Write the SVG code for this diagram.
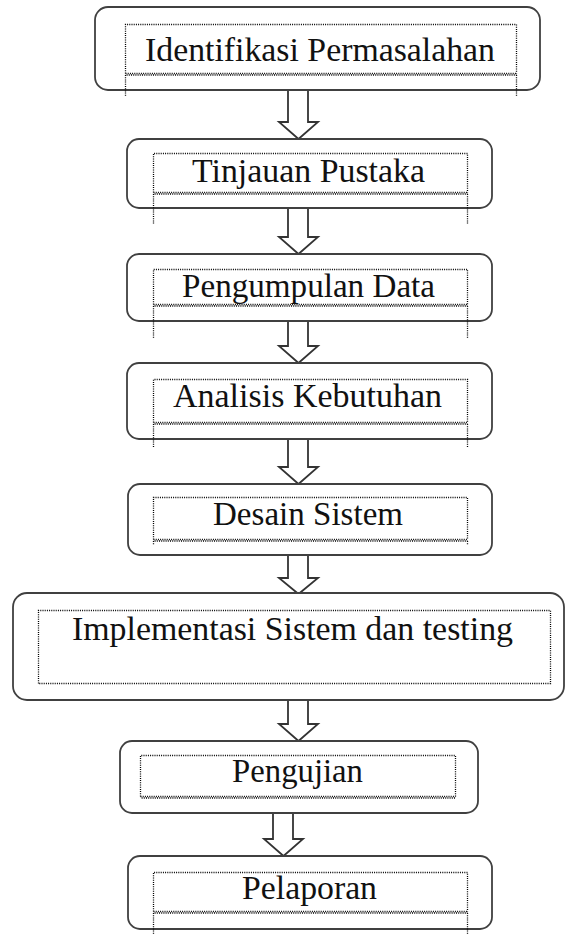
<svg xmlns="http://www.w3.org/2000/svg" width="565" height="935" viewBox="0 0 565 935">
<style>
.box{fill:#fff;stroke:#404040;stroke-width:1.8}
.dot{fill:none;stroke:#000;stroke-width:1.3;stroke-dasharray:1 1.2}
.dot2{fill:none;stroke:#000;stroke-width:1.3;stroke-dasharray:1 1.2;stroke-dashoffset:1.1}
.arr{fill:#fff;stroke:#333;stroke-width:1.8;stroke-linejoin:miter}
.t{font-family:"Liberation Serif","Times New Roman",serif;font-size:34px;fill:#111;text-anchor:start}
</style>
<rect width="565" height="935" fill="#fff"/>
<g id="connectors">
<path class="arr" d="M288,90 V122 H279 L298.5,139 L318,122 H308 V90"/>
<path class="arr" d="M288,208 V237 H279 L298.5,254 L318,237 H308 V208"/>
<path class="arr" d="M288,321 V346 H279 L298.5,363 L318,346 H308 V321"/>
<path class="arr" d="M288,439 V467 H279 L298.5,484 L318,467 H308 V439"/>
<path class="arr" d="M288,555 V578 H279 L298.5,594 L318,578 H308 V555"/>
<path class="arr" d="M288,700 V724 H279 L298.5,741 L318,724 H308 V700"/>
<path class="arr" d="M273,813 V839 H264 L283.5,856 L303,839 H293 V813"/>
</g>
<g id="n1">
<rect class="box" x="95" y="7" width="445" height="83" rx="13"/>
<path class="dot" d="M125.5,73.5 V24.5 H516.5 V73.5 M125.5,73.5 H516.5"/>
<path class="dot2" d="M125.5,75 H516.5"/>
<path class="dot" d="M125.5,75 V97 M516.5,75 V97"/>
<text class="t" x="145" y="61" textLength="350" lengthAdjust="spacingAndGlyphs">Identifikasi Permasalahan</text>
</g>
<g id="n2">
<rect class="box" x="127" y="139" width="365" height="69" rx="12"/>
<path class="dot" d="M153.5,192.5 V153.5 H467.5 V192.5 M153.5,192.5 H467.5"/>
<path class="dot2" d="M153.5,194 H467.5"/>
<path class="dot" d="M153.5,194 V224 M467.5,194 V224"/>
<text class="t" x="192" y="182" textLength="233" lengthAdjust="spacingAndGlyphs">Tinjauan Pustaka</text>
</g>
<g id="n3">
<rect class="box" x="127" y="254" width="365" height="67" rx="12"/>
<path class="dot" d="M153.5,304.5 V269.5 H467.5 V304.5 M153.5,304.5 H467.5"/>
<path class="dot2" d="M153.5,306 H467.5"/>
<path class="dot" d="M153.5,306 V338 M467.5,306 V338"/>
<text class="t" x="182" y="297" textLength="253" lengthAdjust="spacingAndGlyphs">Pengumpulan Data</text>
</g>
<g id="n4">
<rect class="box" x="127" y="363" width="365" height="76" rx="12"/>
<path class="dot" d="M153.5,422.5 V379.5 H467.5 V422.5 M153.5,422.5 H467.5"/>
<path class="dot2" d="M153.5,424 H467.5"/>
<path class="dot" d="M153.5,424 V447 M467.5,424 V447"/>
<text class="t" x="173" y="407" textLength="269" lengthAdjust="spacingAndGlyphs">Analisis Kebutuhan</text>
</g>
<g id="n5">
<rect class="box" x="128" y="484" width="364" height="71" rx="12"/>
<path class="dot" d="M153.5,539.5 V497.5 H467.5 V539.5 M153.5,539.5 H467.5"/>
<path class="dot2" d="M153.5,541 H467.5"/>
<path class="dot" d="M153.5,541 V545 M467.5,541 V545"/>
<text class="t" x="213" y="525" textLength="190" lengthAdjust="spacingAndGlyphs">Desain Sistem</text>
</g>
<g id="n6">
<rect class="box" x="13" y="593" width="551" height="107" rx="14"/>
<path class="dot" d="M38.5,683.5 V610.5 H550.5 V683.5 Z"/>
<text class="t" x="72" y="640" textLength="441" lengthAdjust="spacingAndGlyphs">Implementasi Sistem dan testing</text>
</g>
<g id="n7">
<rect class="box" x="120" y="741" width="358" height="72" rx="12"/>
<path class="dot" d="M140.5,796.5 V755.5 H455.5 V796.5 M140.5,796.5 H455.5"/>
<path class="dot2" d="M140.5,798 H455.5"/>
<text class="t" x="232" y="782" textLength="131" lengthAdjust="spacingAndGlyphs">Pengujian</text>
</g>
<g id="n8">
<rect class="box" x="128" y="856" width="364" height="73" rx="12"/>
<path class="dot" d="M153.5,911.5 V872.5 H467.5 V911.5 M153.5,911.5 H467.5"/>
<path class="dot2" d="M153.5,913 H467.5"/>
<path class="dot" d="M153.5,913 V935 M467.5,913 V935"/>
<text class="t" x="242" y="899" textLength="135" lengthAdjust="spacingAndGlyphs">Pelaporan</text>
</g>
</svg>
